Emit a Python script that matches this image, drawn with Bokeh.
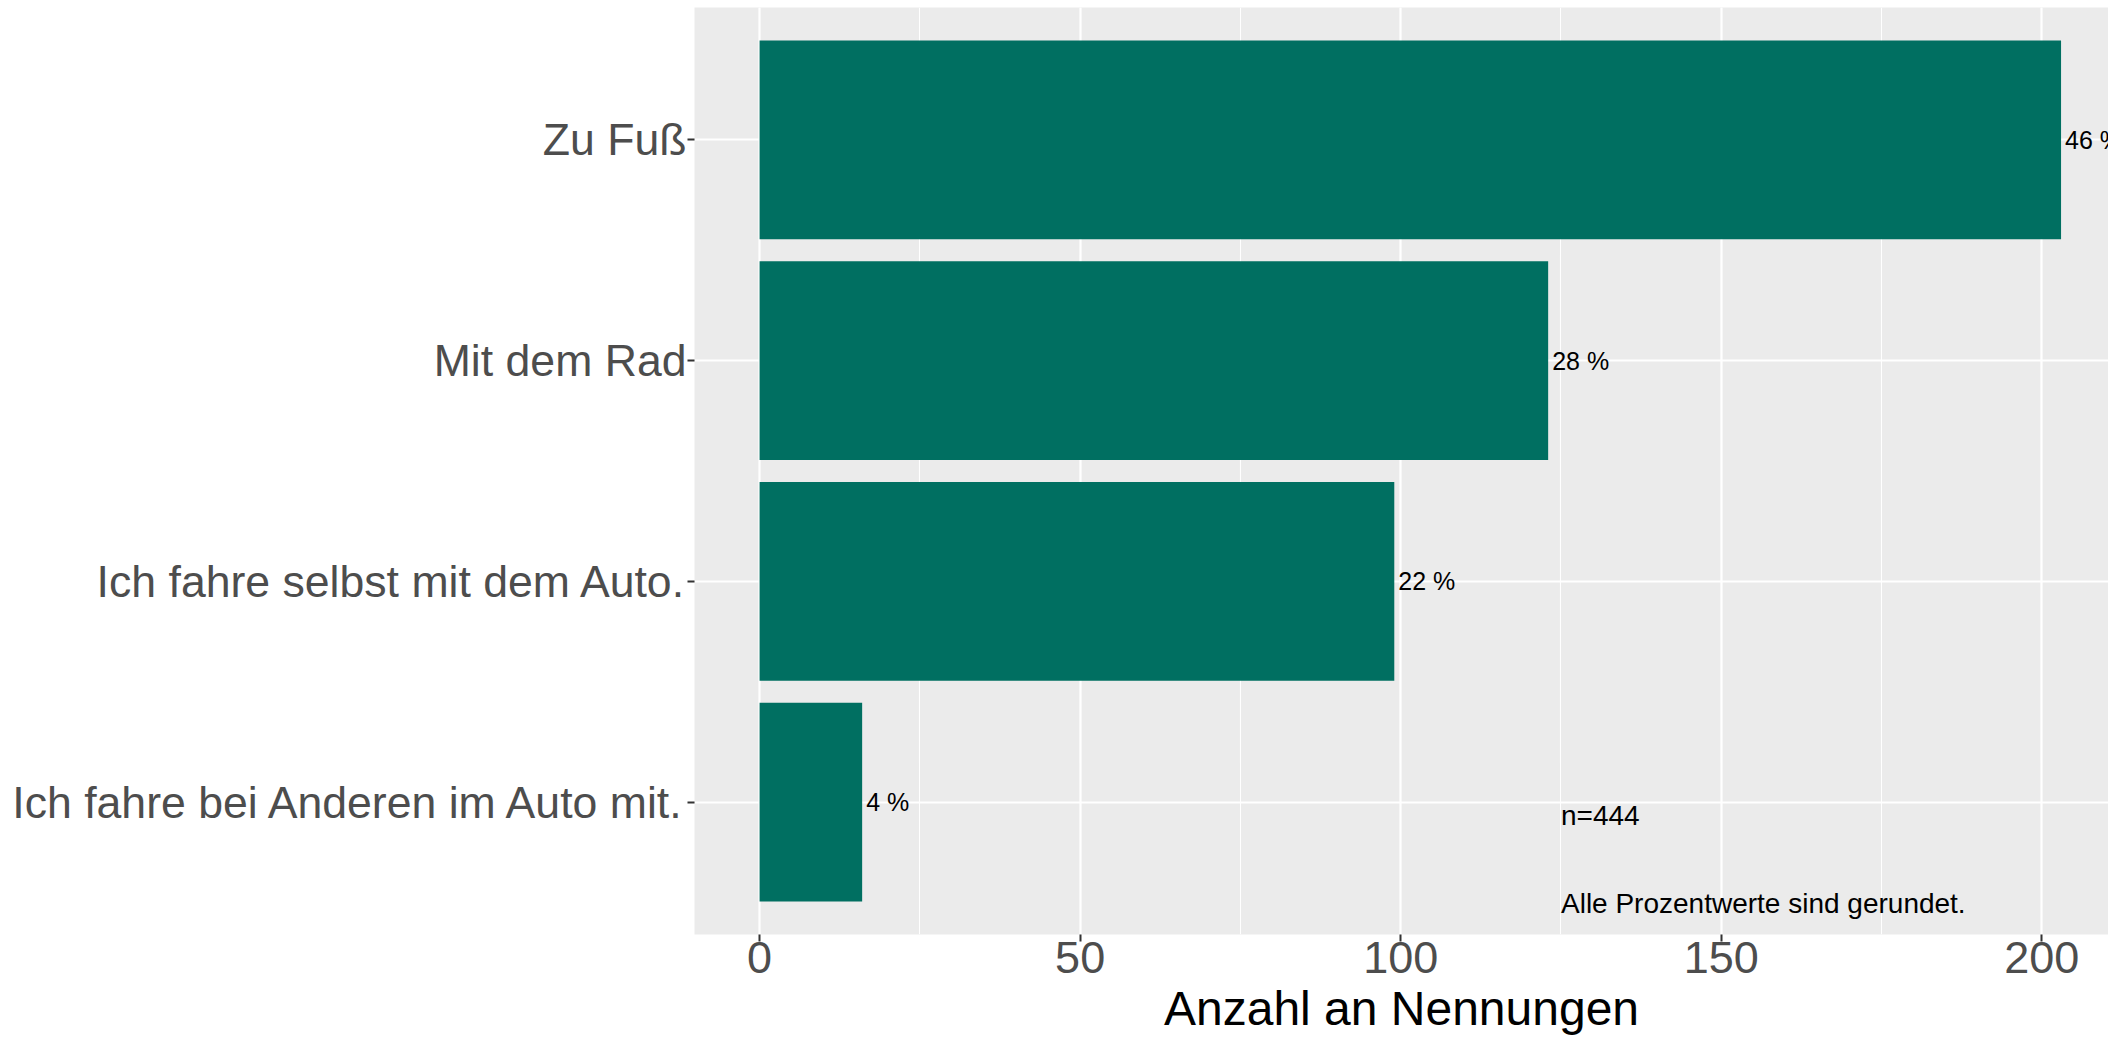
from bokeh.plotting import figure
from bokeh.models import FactorRange, Range1d, SingleIntervalTicker, ColumnDataSource
from bokeh.core.properties import value
from bokeh.embed import file_html
from bokeh.resources import INLINE

# data (bottom to top)
categories = ["Ich fahre bei Anderen im Auto mit.", "Ich fahre selbst mit dem Auto.", "Mit dem Rad", "Zu Fuß"]
counts = [16, 99, 123, 203]
pct_labels = ["4 %", "22 %", "28 %", "46 %"]
n_text = "n=444"
note_text = "Alle Prozentwerte sind gerundet."
x_title = "Anzahl an Nennungen"

FONT = "Liberation Sans"
BAR = "#006F61"

src = ColumnDataSource(dict(cat=categories, cnt=counts, lab=pct_labels))

p = figure(
    width=2108, height=1037,
    y_range=FactorRange(factors=categories, range_padding=0.1, range_padding_units="absolute"),
    x_range=Range1d(-10.15, 210.4),
    output_backend="svg", toolbar_location=None,
    min_border_left=694, min_border_right=0, min_border_top=7, min_border_bottom=103,
)
p.background_fill_color = "#EBEBEB"
p.border_fill_color = "white"
p.outline_line_color = None

p.hbar(y="cat", right="cnt", left=0, height=0.9, source=src, fill_color=BAR, line_color=None)
p.text(x="cnt", y="cat", text="lab", source=src, x_offset=4, text_baseline="middle", text_align="left",
       text_font=value(FONT), text_font_size="25px", text_color="black")

p.text(x=[125], y=[0.44], text=[n_text], text_baseline="middle", text_align="left",
       text_font=value(FONT), text_font_size="28px", text_color="black")
p.text(x=[125], y=[0.04], text=[note_text], text_baseline="middle", text_align="left",
       text_font=value(FONT), text_font_size="28px", text_color="black")

# x axis
p.xaxis.ticker = SingleIntervalTicker(interval=50, num_minor_ticks=2)
p.xaxis.axis_label = x_title
p.xaxis.axis_label_text_font = FONT
p.xaxis.axis_label_text_font_size = "48px"
p.xaxis.axis_label_text_font_style = "normal"
p.xaxis.axis_label_text_color = "black"
p.xaxis.axis_label_standoff = 6
p.xaxis.major_label_standoff = 0
p.xaxis.major_label_text_font = FONT
p.xaxis.major_label_text_font_size = "45px"
p.xaxis.major_label_text_color = "#4D4D4D"

for ax in (p.xaxis, p.yaxis):
    ax.axis_line_color = None
    ax.major_tick_in = 0
    ax.major_tick_out = 7
    ax.major_tick_line_color = "#333333"
    ax.major_tick_line_width = 2
    ax.minor_tick_line_color = None

p.yaxis.major_label_text_font = FONT
p.yaxis.major_label_text_font_size = "44.6px"
p.yaxis.major_label_text_color = "#4D4D4D"
p.yaxis.major_label_standoff = 1

p.xgrid.grid_line_color = "white"
p.xgrid.grid_line_width = 2.2
p.xgrid.minor_grid_line_color = "white"
p.xgrid.minor_grid_line_width = 1.1
p.ygrid.grid_line_color = "white"
p.ygrid.grid_line_width = 2.2

open("out.html", "w").write(file_html(p, INLINE))
